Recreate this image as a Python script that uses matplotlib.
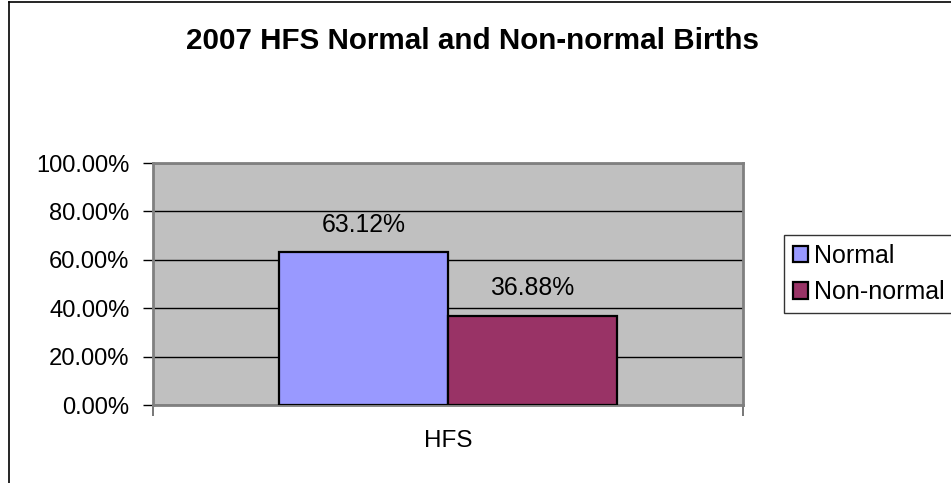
import matplotlib
matplotlib.use("Agg")
import matplotlib.pyplot as plt
from matplotlib.lines import Line2D
from matplotlib.ticker import FixedLocator, FuncFormatter

plt.rcParams['font.family'] = ['Liberation Sans', 'DejaVu Sans']

categories = ["HFS"]
series_names = ["Normal", "Non-normal"]
values = [63.12, 36.88]
colors = ["#9999FF", "#993366"]
yticks = [0, 20, 40, 60, 80, 100]
title = "2007 HFS Normal and Non-normal Births"

W, H = 951, 483
fig = plt.figure(figsize=(W / 100, H / 100), dpi=100)
fig.patch.set_facecolor("white")

ax = fig.add_axes([153 / W, (H - 405) / H, 590 / W, 242 / H])
ax.set_facecolor("#C0C0C0")

gap = 1.5
w = 1.0 / (len(series_names) + gap)
n = len(series_names)
bars_all = []
for i, (name, v, c) in enumerate(zip(series_names, values, colors)):
    off = (i - (n - 1) / 2) * w
    b = ax.bar([0 + off], [v], width=w, color=c, edgecolor="black", linewidth=1.6,
               label=name, zorder=3)
    ax.bar_label(b, labels=[f"{v:.2f}%"], padding=11, fontsize=17.8, zorder=4)
    bars_all.append(b)

ax.set_xlim(-0.5, 0.5)
ax.set_ylim(0, 100)
ax.yaxis.set_major_locator(FixedLocator(yticks))
ax.yaxis.set_major_formatter(FuncFormatter(lambda v, p: f"{v:.2f}%"))
ax.yaxis.grid(True, color="black", linewidth=1.0, zorder=1)
ax.set_axisbelow(True)
ax.tick_params(axis="y", direction="out", length=7, width=1, color="black",
               labelsize=17.1, pad=10)

# x axis: category label centered, tick marks at category boundaries
ax.set_xticks([0])
ax.set_xticklabels(categories, fontsize=17.5)
ax.tick_params(axis="x", length=0, pad=18)
ax.set_xticks([-0.5, 0.5], minor=True)
ax.tick_params(axis="x", which="minor", direction="out", length=8, width=1.2, color="#606060")

for s in ax.spines.values():
    s.set_color("#808080")
    s.set_linewidth(2)

fig.text(473 / W, 1 - 41 / H, title, ha="center", va="center", fontsize=21.3,
         fontweight="bold")

leg = fig.legend(handles=[b for b in bars_all], labels=series_names,
                 loc="upper left", bbox_to_anchor=(784 / W, 1 - 235 / H),
                 fontsize=18, frameon=True, fancybox=False, shadow=False,
                 handlelength=0.62, handleheight=0.62, handletextpad=0.25,
                 labelspacing=0.5, borderpad=0.35, borderaxespad=0)
leg.get_frame().set_edgecolor("black")
leg.get_frame().set_linewidth(1.0)

# outer chart frame (left and top edges visible)
fig.add_artist(Line2D([8.5 / W, 8.5 / W], [0, 1 - 1.5 / H], transform=fig.transFigure,
                      color="black", linewidth=1.2))
fig.add_artist(Line2D([8.5 / W, 1], [1 - 1.5 / H, 1 - 1.5 / H], transform=fig.transFigure,
                      color="black", linewidth=1.2))

fig.savefig("out.png", dpi=100, facecolor="white")
